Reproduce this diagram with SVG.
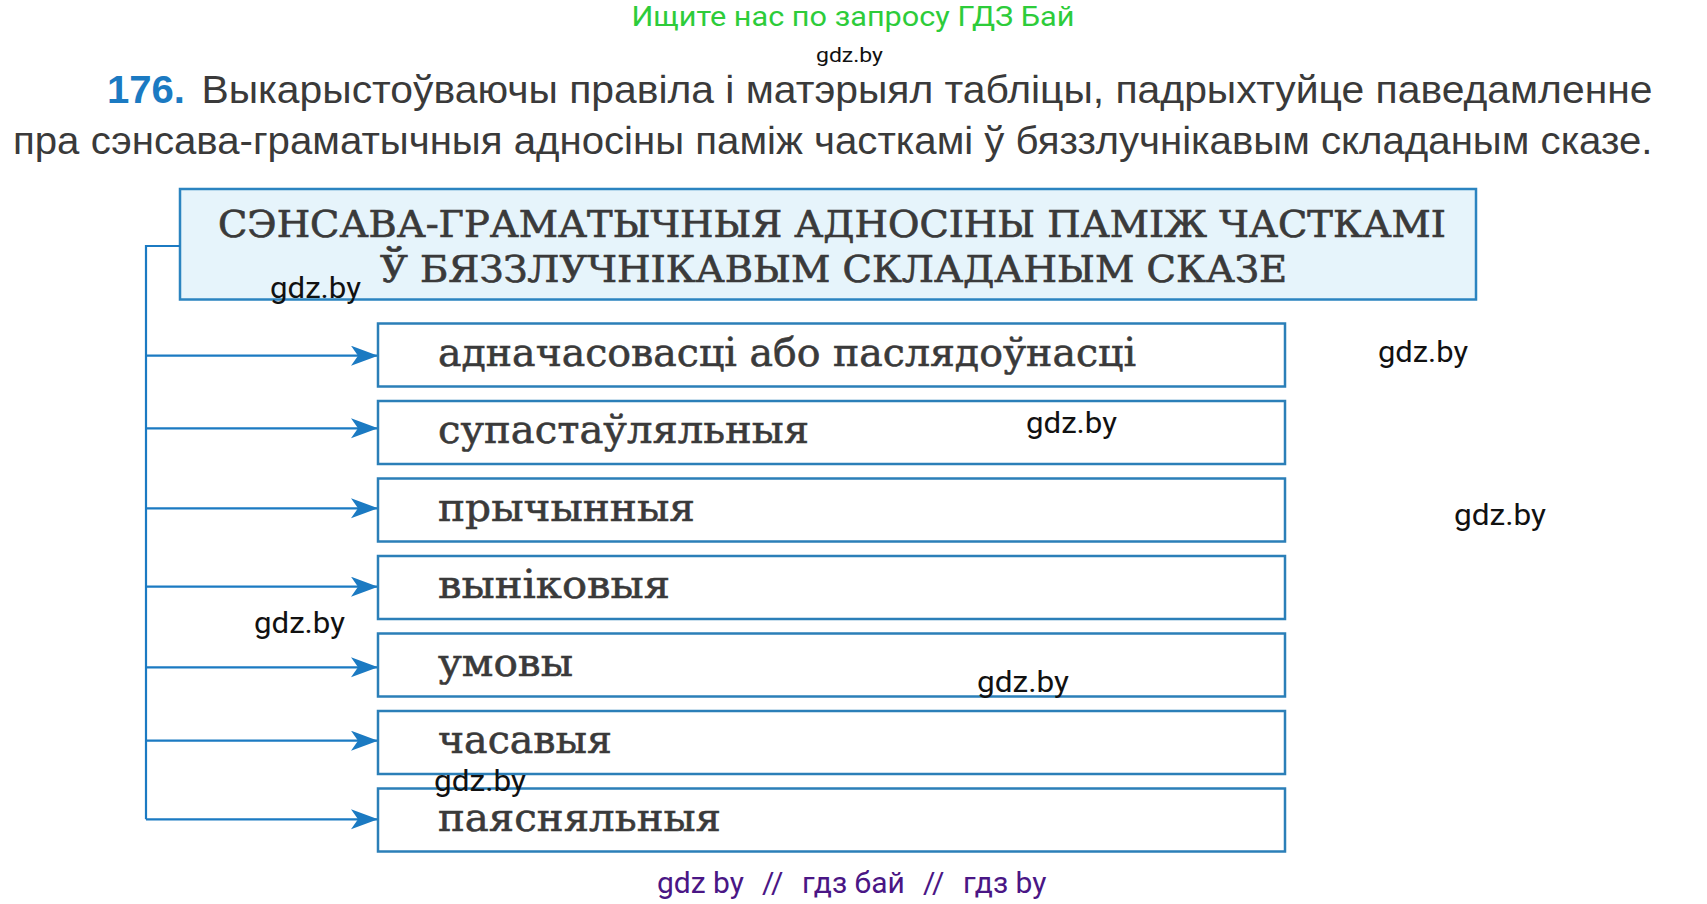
<svg xmlns="http://www.w3.org/2000/svg" width="1707" height="904" viewBox="0 0 1707 904">
<defs>
<style>
.body{font-family:"Liberation Sans",Arial,sans-serif;font-size:38px;fill:#3a3a3a}
.num{font-family:"Liberation Sans",Arial,sans-serif;font-size:38px;font-weight:bold;fill:#1b7ac2}
.green{font-family:Roboto,"Liberation Sans",sans-serif;font-size:28px;fill:#2dcc3a}
.wm{font-family:Roboto,"Liberation Sans",sans-serif;font-size:29px;fill:#111}
.wmsmall{font-family:Roboto,"Liberation Sans",sans-serif;font-size:21px;fill:#111}
.foot{font-family:Roboto,"Liberation Sans",sans-serif;font-size:30px;fill:#4a1685}
.head{font-family:"DejaVu Serif","Liberation Serif",serif;font-size:37px;fill:#3a3a3a;stroke:#3a3a3a;stroke-width:0.7}
.item{font-family:"DejaVu Serif","Liberation Serif",serif;font-size:40px;fill:#3a3a3a;stroke:#3a3a3a;stroke-width:0.6}
.hbox{fill:#e6f4fb;stroke:#2b84c0;stroke-width:2.5}
.box{fill:#fff;stroke:#2b7fb8;stroke-width:2.5}
.conn{fill:none;stroke:#1b7ac2;stroke-width:2.2}
</style>
<marker id="arr" markerUnits="userSpaceOnUse" markerWidth="30" markerHeight="22" refX="27" refY="10" orient="auto">
<path d="M0,0 L27,10 L0,20 L7,10 z" fill="#1b7ac2"/>
</marker>
</defs>
<rect width="1707" height="904" fill="#fff"/>

<text class="green" x="631.5" y="26" textLength="443" lengthAdjust="spacingAndGlyphs">Ищите нас по запросу ГДЗ Бай</text>
<text class="wmsmall" x="816" y="61.5" textLength="67" lengthAdjust="spacingAndGlyphs">gdz.by</text>
<text class="num" x="107" y="103" textLength="78" lengthAdjust="spacingAndGlyphs">176.</text>
<text class="body" x="201.5" y="103" textLength="1451" lengthAdjust="spacingAndGlyphs">Выкарыстоўваючы правіла і матэрыял табліцы, падрыхтуйце паведамленне</text>
<text class="body" x="13" y="154" textLength="1639.5" lengthAdjust="spacingAndGlyphs">пра сэнсава-граматычныя адносіны паміж часткамі ў бяззлучнікавым складаным сказе.</text>

<g id="header">
<rect class="hbox" x="180" y="189" width="1296" height="110.5"/>
<text class="head" x="218" y="236.5" textLength="1228" lengthAdjust="spacingAndGlyphs">СЭНСАВА-ГРАМАТЫЧНЫЯ АДНОСІНЫ ПАМІЖ ЧАСТКАМІ</text>
<text class="head" x="380" y="281.5" textLength="907" lengthAdjust="spacingAndGlyphs">Ў БЯЗЗЛУЧНІКАВЫМ СКЛАДАНЫМ СКАЗЕ</text>
</g>

<g id="connectors">
<polyline class="conn" points="180,246 146,246 146,819.3"/>
<line class="conn" x1="146" y1="355.7" x2="378" y2="355.7" marker-end="url(#arr)"/>
<line class="conn" x1="146" y1="428.3" x2="378" y2="428.3" marker-end="url(#arr)"/>
<line class="conn" x1="146" y1="508.3" x2="378" y2="508.3" marker-end="url(#arr)"/>
<line class="conn" x1="146" y1="586.7" x2="378" y2="586.7" marker-end="url(#arr)"/>
<line class="conn" x1="146" y1="667.3" x2="378" y2="667.3" marker-end="url(#arr)"/>
<line class="conn" x1="146" y1="740.7" x2="378" y2="740.7" marker-end="url(#arr)"/>
<line class="conn" x1="146" y1="819.3" x2="378" y2="819.3" marker-end="url(#arr)"/>
</g>

<g id="item1">
<rect class="box" x="378" y="323.5" width="907" height="63"/>
<text class="item" x="438" y="365.5" textLength="698" lengthAdjust="spacingAndGlyphs">адначасовасці або паслядоўнасці</text>
</g>
<g id="item2">
<rect class="box" x="378" y="401" width="907" height="63"/>
<text class="item" x="438" y="443" textLength="371" lengthAdjust="spacingAndGlyphs">супастаўляльныя</text>
</g>
<g id="item3">
<rect class="box" x="378" y="478.5" width="907" height="63"/>
<text class="item" x="438" y="520.5" textLength="257" lengthAdjust="spacingAndGlyphs">прычынныя</text>
</g>
<g id="item4">
<rect class="box" x="378" y="556" width="907" height="63"/>
<text class="item" x="438" y="598" textLength="232" lengthAdjust="spacingAndGlyphs">выніковыя</text>
</g>
<g id="item5">
<rect class="box" x="378" y="633.5" width="907" height="63"/>
<text class="item" x="438" y="676" textLength="135" lengthAdjust="spacingAndGlyphs">умовы</text>
</g>
<g id="item6">
<rect class="box" x="378" y="711" width="907" height="63"/>
<text class="item" x="438" y="753" textLength="174" lengthAdjust="spacingAndGlyphs">часавыя</text>
</g>
<g id="item7">
<rect class="box" x="378" y="788.5" width="907" height="63"/>
<text class="item" x="438" y="831" textLength="283" lengthAdjust="spacingAndGlyphs">паясняльныя</text>
</g>

<g id="watermarks">
<text class="wm" x="270" y="298" textLength="91" lengthAdjust="spacingAndGlyphs">gdz.by</text>
<text class="wm" x="1378" y="361.5" textLength="90" lengthAdjust="spacingAndGlyphs">gdz.by</text>
<text class="wm" x="1026" y="433" textLength="91" lengthAdjust="spacingAndGlyphs">gdz.by</text>
<text class="wm" x="1454" y="525" textLength="92" lengthAdjust="spacingAndGlyphs">gdz.by</text>
<text class="wm" x="254" y="632.5" textLength="91" lengthAdjust="spacingAndGlyphs">gdz.by</text>
<text class="wm" x="977" y="691.5" textLength="92" lengthAdjust="spacingAndGlyphs">gdz.by</text>
<text class="wm" x="434" y="790.5" textLength="92" lengthAdjust="spacingAndGlyphs">gdz.by</text>
</g>

<text class="foot" y="893"><tspan x="657">gdz by</tspan><tspan x="762">//</tspan><tspan x="802">гдз бай</tspan><tspan x="923">//</tspan><tspan x="963">гдз by</tspan></text>
</svg>
